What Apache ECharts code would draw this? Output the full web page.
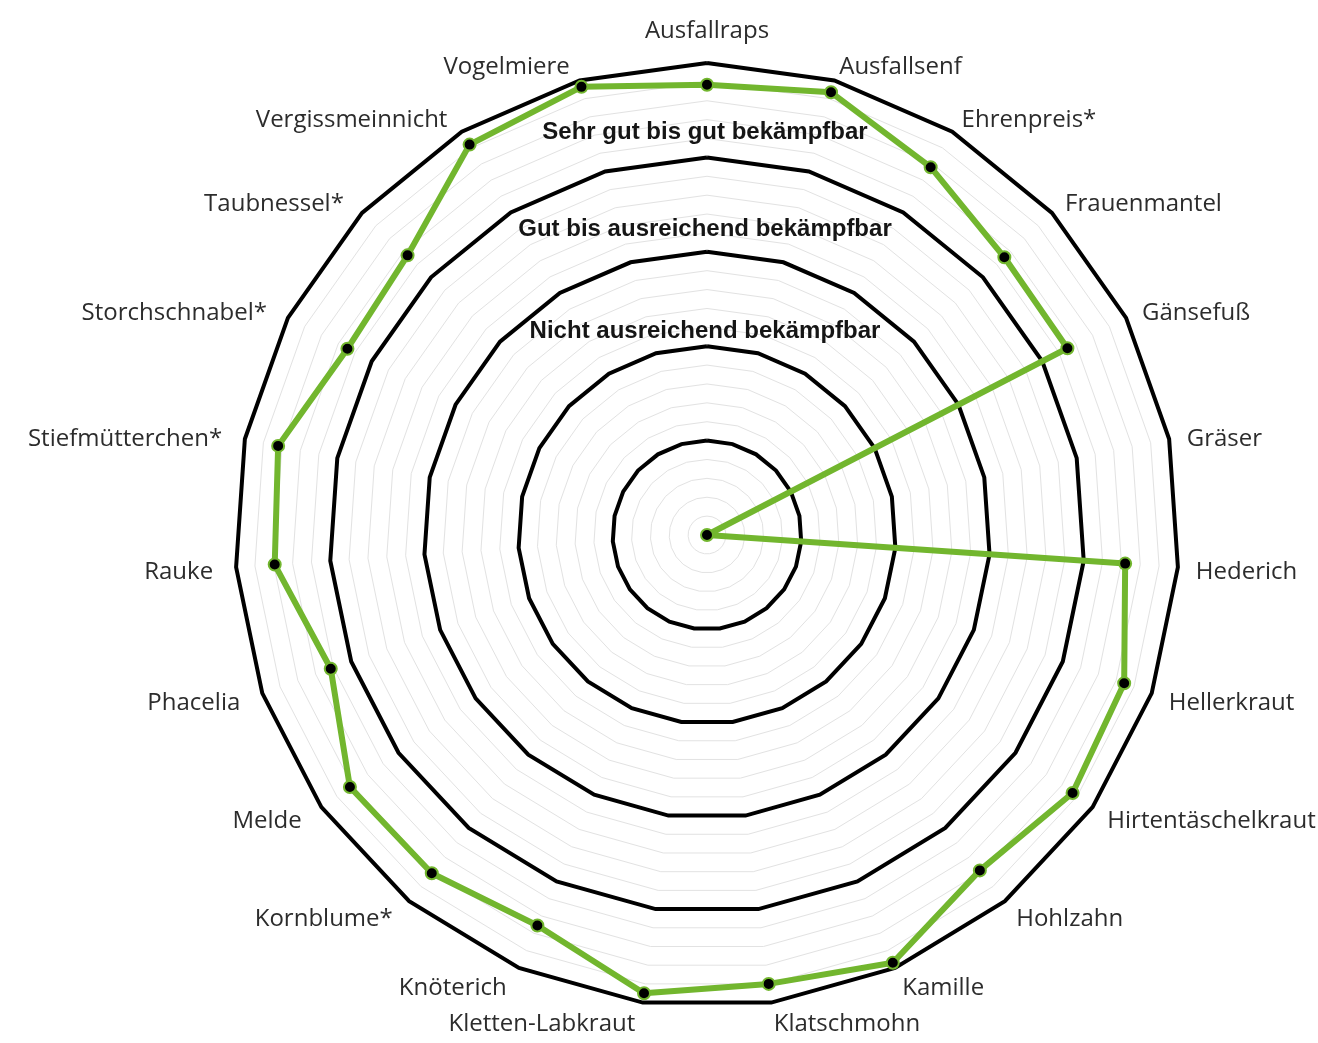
<!DOCTYPE html>
<html>
<head>
<meta charset="utf-8">
<title>Radar</title>
<script src="https://cdn.jsdelivr.net/npm/echarts@6/dist/echarts.min.js"></script>
<style>
  html, body { margin: 0; padding: 0; background: #fff; }
  #container { width: 1318px; height: 1043px; }
</style>
</head>
<body>
<div id="container"></div>
<script>
// Kategorien im Uhrzeigersinn, beginnend oben
const categories = [
  'Ausfallraps', 'Ausfallsenf', 'Ehrenpreis*', 'Frauenmantel', 'Gänsefuß', 'Gräser',
  'Hederich', 'Hellerkraut', 'Hirtentäschelkraut', 'Hohlzahn', 'Kamille', 'Klatschmohn',
  'Kletten-Labkraut', 'Knöterich', 'Kornblume*', 'Melde', 'Phacelia', 'Rauke',
  'Stiefmütterchen*', 'Storchschnabel*', 'Taubnessel*', 'Vergissmeinnicht', 'Vogelmiere'
];
const values = [
  4.77, 4.87, 4.56, 4.31, 4.30, 0,
  4.44, 4.69, 4.74, 4.58, 4.94, 4.80,
  4.90, 4.51, 4.62, 4.63, 4.23, 4.59,
  4.64, 4.29, 4.34, 4.84, 4.93
];
const scaleMax = 5;
const fineSteps = 25;   // graue Hilfslinien
const bandSteps = 5;    // schwarze Ringe
const bandLabels = [
  'Sehr gut bis gut bekämpfbar',
  'Gut bis ausreichend bekämpfbar',
  'Nicht ausreichend bekämpfbar'
];

// echarts zeichnet gegen den Uhrzeigersinn -> Reihenfolge umdrehen, erster bleibt oben
const n = categories.length;
const order = categories.map((_, i) => (n - i) % n);
const indicator = order.map(i => ({ name: categories[i], min: 0, max: scaleMax }));
const seriesData = order.map(i => values[i]);

var dom = document.getElementById('container');
var myChart = echarts.init(dom, null, { renderer: 'canvas' });

var center = [707, 535];
var radius = 472;
var nameFont = { color: '#2c2c2c', fontFamily: 'Open Sans', fontSize: 24 };

var option = {
  backgroundColor: '#ffffff',
  animation: false,
  radar: [
    {
      center: center,
      radius: radius,
      shape: 'polygon',
      splitNumber: fineSteps,
      indicator: indicator,
      nameGap: 18,
      axisName: {
        color: nameFont.color,
        fontFamily: nameFont.fontFamily,
        fontSize: nameFont.fontSize,
        // oberstes Label anders, die anderen etwas tiefer
        formatter: function (name) {
          return name === categories[0] ? '{t|' + name + '}' : '{s|' + name + '}';
        },
        rich: {
          t: Object.assign({ padding: [0, 0, 2, 0] }, nameFont),
          s: Object.assign({ padding: [8, 5, 0, 0] }, nameFont)
        }
      },
      axisLine: { show: false },
      axisTick: { show: false },
      splitArea: { show: false },
      splitLine: { lineStyle: { color: '#e2e2e2', width: 1 } }
    },
    {
      center: center,
      radius: radius,
      shape: 'polygon',
      splitNumber: bandSteps,
      indicator: indicator.map(d => ({ name: '', min: 0, max: scaleMax })),
      axisName: { show: false },
      axisLine: { show: false },
      axisTick: { show: false },
      splitArea: { show: false },
      splitLine: { lineStyle: { color: '#000000', width: 4 } }
    }
  ],
  graphic: bandLabels.map((txt, i) => ({
    type: 'text',
    x: 705,
    y: [132, 229, 331][i],
    style: {
      text: txt,
      fill: '#151515',
      font: 'bold 24px "Liberation Sans", Arial, sans-serif',
      textAlign: 'center',
      textVerticalAlign: 'middle'
    },
    z: 10
  })),
  series: [
    {
      type: 'radar',
      radarIndex: 0,
      z: 5,
      symbol: 'circle',
      symbolSize: 12,
      lineStyle: { color: '#72b62e', width: 6 },
      itemStyle: { color: '#000000', borderColor: '#72b62e', borderWidth: 2 },
      data: [{ value: seriesData, name: 'Bekämpfbarkeit' }]
    }
  ]
};

if (option && typeof option === 'object') {
  myChart.setOption(option);
}
</script>
</body>
</html>
